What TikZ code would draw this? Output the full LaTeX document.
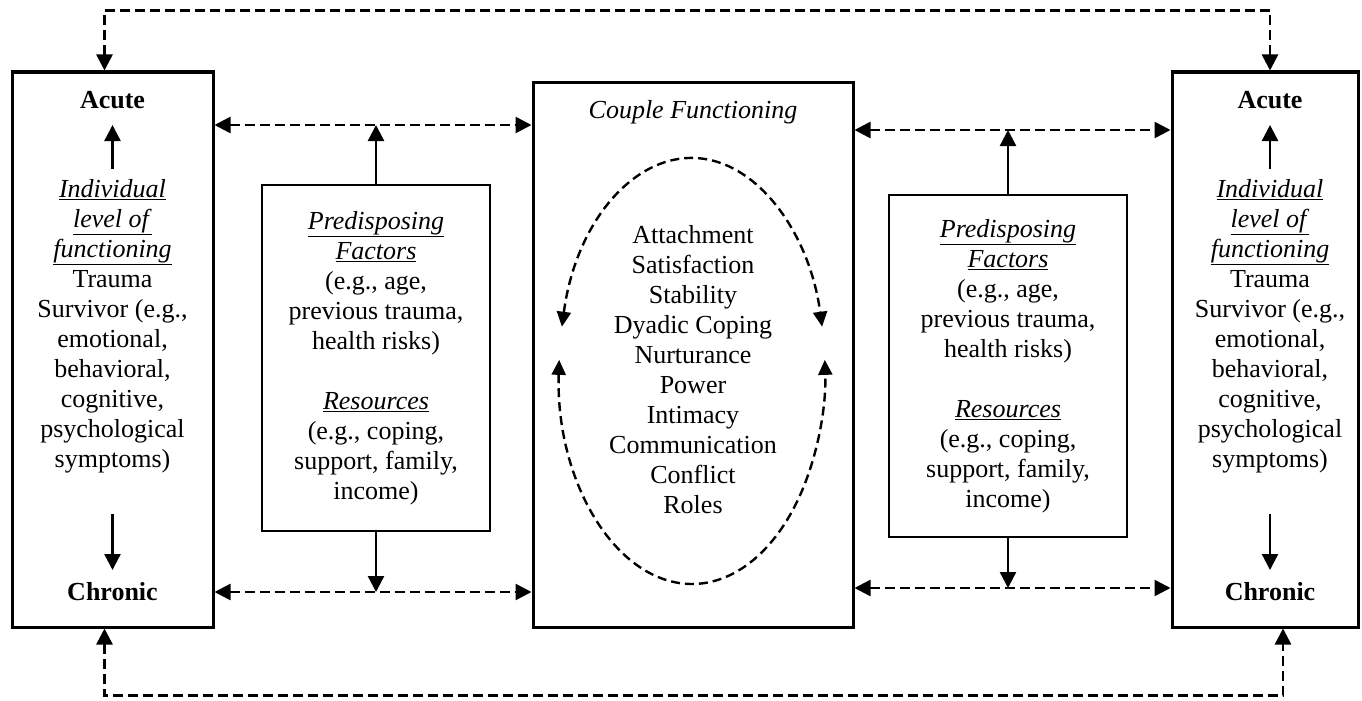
\documentclass[tikz,border=0pt]{standalone}
\usepackage{fontspec}
\setmainfont{Liberation Serif}
\usetikzlibrary{positioning, arrows.meta, calc}

\newcommand{\ul}[1]{\underline{\textit{#1}}}

\begin{document}
\begin{tikzpicture}[
	x=1pt, y=-1pt,
	every node/.style={font=\fontsize{26}{30}\selectfont, align=center, inner sep=0pt},
	outer/.style={draw, line width=3pt, minimum width=201pt, minimum height=555pt},
	predbox/.style={draw, line width=2.8pt, minimum width=228pt, minimum height=346pt},
	tip/.style={-{Triangle[length=16pt, width=16pt]}},
	solidarrow/.style={tip, line width=2.4pt},
	dasharrow/.style={{Triangle[length=16pt, width=16pt]}-{Triangle[length=16pt, width=16pt]}, line width=2.6pt, dash pattern=on 10pt off 5pt},
	cycle/.style={{Triangle[length=15pt, width=14pt]}-{Triangle[length=15pt, width=14pt]}, line width=2.4pt, dash pattern=on 9pt off 5pt}
	]
	\useasboundingbox (0,0) rectangle (1362,701);

	% outer boxes
	\node[outer] (lbox) at (112.5,349.5) {};
	\node[outer, minimum width=186pt] (rbox) at (1265,349.5) {};
	\node[outer, minimum width=320pt, minimum height=545pt] (cbox) at (693,354.5) {};

	% left individual
	\node[font=\fontsize{26}{30}\selectfont\bfseries] (lacute) at (112.5,100) {Acute};
	\node (ltext) at (112.5,326) {\ul{Individual}\\ \ul{level of}\\ \ul{functioning}\\ Trauma\\ Survivor (e.g.,\\ emotional,\\ behavioral,\\ cognitive,\\ psychological\\ symptoms)};
	\node[font=\fontsize{26}{30}\selectfont\bfseries] (lchronic) at (112.5,592) {Chronic};
	\draw[solidarrow] (112.5,169) -- (lacute.south |- 0,125);
	\draw[solidarrow] (112.5,514) -- (lchronic.north |- 0,570);

	% right individual
	\node[font=\fontsize{26}{30}\selectfont\bfseries] (racute) at (1270,100) {Acute};
	\node (rtext) at (1270,326) {\ul{Individual}\\ \ul{level of}\\ \ul{functioning}\\ Trauma\\ Survivor (e.g.,\\ emotional,\\ behavioral,\\ cognitive,\\ psychological\\ symptoms)};
	\node[font=\fontsize{26}{30}\selectfont\bfseries] (rchronic) at (1270,592) {Chronic};
	\draw[solidarrow] (1270,169) -- (racute.south |- 0,125);
	\draw[solidarrow] (1270,514) -- (rchronic.north |- 0,570);

	% predisposing factors and resources
	\node[predbox] (lpred) at (376,358) {\ul{Predisposing}\\ \ul{Factors}\\ (e.g., age,\\ previous trauma,\\ health risks)\\[30pt] \ul{Resources}\\ (e.g., coping,\\ support, family,\\ income)};
	\node[predbox, minimum width=238pt, minimum height=342pt] (rpred) at (1008,366) {\ul{Predisposing}\\ \ul{Factors}\\ (e.g., age,\\ previous trauma,\\ health risks)\\[30pt] \ul{Resources}\\ (e.g., coping,\\ support, family,\\ income)};

	% couple functioning
	\node[font=\fontsize{26}{30}\selectfont\itshape] (ctitle) at (693,112) {Couple Functioning};
	\node (clist) at (693,370) {Attachment\\ Satisfaction\\ Stability\\ Dyadic Coping\\ Nurturance\\ Power\\ Intimacy\\ Communication\\ Conflict\\ Roles};
	\coordinate (ectr) at (692,371);
	\draw[cycle] (ectr) ++(168:133pt and 213pt) arc[start angle=168, end angle=12, x radius=133pt, y radius=213pt];
	\draw[cycle] (ectr) ++(177:133pt and 213pt) arc[start angle=177, end angle=363, x radius=133pt, y radius=213pt];

	% links between boxes
	\coordinate (upL) at (0,125);
	\coordinate (upR) at (0,130);
	\coordinate (lowL) at (0,592);
	\coordinate (lowR) at (0,588);
	\draw[dasharrow] (lbox.east |- upL) -- (cbox.west |- upL);
	\draw[dasharrow] (cbox.east |- upR) -- (rbox.west |- upR);
	\draw[dasharrow] (lbox.east |- lowL) -- (cbox.west |- lowL);
	\draw[dasharrow] (cbox.east |- lowR) -- (rbox.west |- lowR);
	\draw[solidarrow] (lpred.north) -- (lpred.north |- upL);
	\draw[solidarrow] (lpred.south) -- (lpred.south |- lowL);
	\draw[solidarrow] (rpred.north) -- (rpred.north |- upR);
	\draw[solidarrow] (rpred.south) -- (rpred.south |- lowR);

	% feedback over time
	\draw[dasharrow] ($(lbox.north)+(-8,0)$) -- ++(0,-60) -| ($(rbox.north)+(5,0)$);
	\draw[dasharrow] ($(lbox.south)+(-8,0)$) -- ++(0,67) -| ($(rbox.south)+(18,0)$);
\end{tikzpicture}
\end{document}
